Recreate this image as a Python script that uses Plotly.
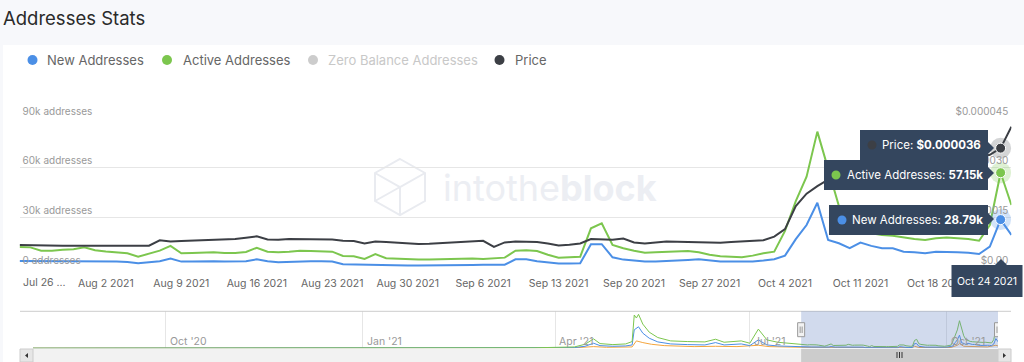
import plotly.graph_objects as go
from datetime import date, timedelta

W, H = 1024, 362

# ---------------- data ----------------
start_day = date(2021, 7, 25)
dates = [(start_day + timedelta(days=i)).isoformat() for i in range(93)]

new_addresses_k = [
    3.8, 3.8, 3.8, 3.8, 3.8, 3.8, 3.8, 3.8, 3.6, 3.4,
    3.2, 2.4, 3.0, 3.6, 5.2, 3.4, 3.4, 3.6, 3.6, 3.4,
    3.4, 3.6, 4.8, 3.6, 3.0, 3.2, 3.8, 3.6, 3.6, 3.4,
    1.8, 1.6, 1.4, 1.4, 1.3, 1.2, 1.0, 1.0, 1.0, 1.1,
    1.2, 1.4, 1.4, 1.5, 1.5, 1.5, 4.8, 4.8, 3.6, 2.8,
    2.3, 2.2, 2.4, 13.9, 13.9, 6.0, 4.6, 4.0, 3.4, 3.4,
    3.6, 3.8, 4.4, 4.8, 4.2, 3.4, 3.4, 3.4, 3.4, 4.0,
    4.8, 7.0, 17.0, 25.5, 39.0, 16.5, 14.5, 11.5, 14.9, 12.9,
    11.5, 11.5, 9.4, 9.0, 8.5, 9.4, 9.4, 9.0, 8.8, 8.0,
    12.5, 28.79, 19.5]

active_addresses_k = [
    12.3, 12.0, 10.0, 10.0, 10.6, 10.9, 12.1, 10.3, 9.5, 8.8,
    8.4, 6.4, 8.4, 10.0, 12.9, 8.4, 8.6, 9.0, 9.0, 8.6,
    8.6, 9.2, 11.8, 9.4, 9.0, 9.4, 10.0, 9.8, 9.6, 9.4,
    6.8, 6.6, 5.0, 7.9, 5.4, 5.0, 4.8, 4.6, 4.6, 4.8,
    5.0, 5.0, 5.2, 5.0, 5.4, 5.8, 10.0, 10.3, 9.8, 7.5,
    5.8, 6.0, 6.3, 23.5, 26.6, 13.5, 11.5, 10.0, 8.8, 9.0,
    9.2, 9.4, 9.8, 9.0, 7.5, 6.6, 6.2, 6.0, 7.0, 8.5,
    9.4, 22.0, 40.0, 54.7, 82.0, 60.0, 37.0, 26.0, 22.0, 20.5,
    19.5, 19.0, 18.0, 17.0, 16.5, 17.5, 18.0, 17.5, 17.0, 16.0,
    25.5, 57.15, 37.6]

price_micro_usd = [
    6.75, 6.65, 6.6, 6.5, 6.5, 6.5, 6.5, 6.55, 6.5, 6.45,
    6.45, 6.45, 6.5, 8.15, 7.75, 7.9, 8.0, 8.0, 8.1, 8.3,
    8.5, 8.9, 9.35, 8.4, 8.3, 8.5, 8.5, 8.5, 8.4, 8.4,
    8.0, 7.9, 7.15, 7.75, 7.65, 7.5, 7.3, 7.0, 7.1, 7.3,
    7.3, 7.5, 7.8, 8.0, 6.15, 7.5, 7.75, 7.75, 7.65, 7.2,
    6.6, 6.8, 7.2, 8.5, 8.5, 8.3, 8.65, 7.5, 7.2, 7.5,
    7.8, 7.7, 7.6, 7.5, 7.4, 7.4, 7.6, 7.8, 7.9, 8.15,
    9.25, 11.5, 18.5, 22.25, 24.5, 26.5, 27.5, 28.0, 28.5, 29.0,
    29.5, 30.0, 30.5, 31.0, 31.25, 31.5, 32.0, 32.25, 32.5, 33.0,
    34.0, 36.0, 42.5]

xtick_dates = ["2021-07-26", "2021-08-02", "2021-08-09", "2021-08-16", "2021-08-23",
               "2021-08-30", "2021-09-06", "2021-09-13", "2021-09-20", "2021-09-27",
               "2021-10-04", "2021-10-11", "2021-10-18"]
xtick_labels = ["Jul 26 ...", "Aug 2 2021", "Aug 9 2021", "Aug 16 2021", "Aug 23 2021",
                "Aug 30 2021", "Sep 6 2021", "Sep 13 2021", "Sep 20 2021", "Sep 27 2021",
                "Oct 4 2021", "Oct 11 2021", "Oct 18 2021"]

y_ticks = [0, 30000, 60000, 90000]
y_tick_labels = ["0 addresses", "30k addresses", "60k addresses", "90k addresses"]
price_ticks = [0, 0.000015, 0.000030, 0.000045]
price_tick_labels = ["$0.00", "$0.000015", "$0.000030", "$0.000045"]

# navigator (history before the selected window)
nav_hist_dates = ["2020-07-31", "2020-09-15", "2020-11-15", "2021-01-01", "2021-01-30",
                  "2021-02-06", "2021-02-27", "2021-03-10", "2021-03-22", "2021-04-10",
                  "2021-04-15", "2021-04-19", "2021-04-22", "2021-04-28", "2021-05-04",
                  "2021-05-07", "2021-05-08", "2021-05-09", "2021-05-10", "2021-05-12",
                  "2021-05-15", "2021-05-19", "2021-05-25", "2021-06-02", "2021-06-10",
                  "2021-06-15", "2021-06-19", "2021-06-27", "2021-07-01", "2021-07-05",
                  "2021-07-07", "2021-07-09", "2021-07-14", "2021-07-20", "2021-07-24"]
nav_hist_active_k = [0.3, 0.3, 0.4, 0.6, 2.5, 0.8, 1.5, 1.8, 1.5, 4,
                     12, 28, 14, 11, 13, 20, 99, 90, 101, 72,
                     48, 32, 22, 20, 19, 27, 18, 22, 15, 57,
                     40, 25, 18, 14, 13]
nav_hist_new_k = [0.2, 0.2, 0.2, 0.3, 1.0, 0.4, 0.6, 0.8, 0.7, 2,
                  6, 15, 8, 6, 7, 10, 55, 60, 64, 45,
                  30, 19, 13, 11, 10, 17, 10, 13, 8, 25,
                  18, 10, 7, 5, 4]
zero_balance_dates = ["2020-07-31", "2020-10-01", "2021-01-01", "2021-04-10", "2021-04-19",
                      "2021-04-25", "2021-05-07", "2021-05-09", "2021-05-12", "2021-05-16",
                      "2021-05-22", "2021-06-05", "2021-06-15", "2021-06-25", "2021-07-05",
                      "2021-07-10", "2021-07-25", "2021-08-20", "2021-09-15", "2021-09-16",
                      "2021-09-18", "2021-10-03", "2021-10-06", "2021-10-07", "2021-10-09",
                      "2021-10-20", "2021-10-24", "2021-10-25"]
zero_balance_k = [0.5, 0.5, 0.6, 1.5, 5, 3, 4, 22, 17, 12,
                  8, 5, 6, 5, 9, 5, 3, 2.5, 2, 6,
                  2.5, 2.5, 9, 14, 6, 4, 9, 7]
nav_ticks = ["2020-10-01", "2021-01-01", "2021-04-01", "2021-07-01", "2021-10-01"]
nav_tick_labels = ["Oct '20", "Jan '21", "Apr '21", "Jul '21", "Oct '21"]
nav_range = ["2020-07-31", "2021-10-25"]

hover_date = "2021-10-24"

# ---------------- derived ----------------
new_addresses = [v * 1000 for v in new_addresses_k]
active_addresses = [v * 1000 for v in active_addresses_k]
price_usd = [p * 1e-6 for p in price_micro_usd]
nav_dates = nav_hist_dates + dates
nav_active = [v * 1000 for v in nav_hist_active_k] + active_addresses
nav_new = [v * 1000 for v in nav_hist_new_k] + new_addresses
zero_balance = [v * 1000 for v in zero_balance_k]
hi = dates.index(hover_date)

BLUE = "#4b8fe6"
GREEN = "#7cc64e"
PRICE = "#3c3f45"
GRAY_OFF = "#cccccc"
ORANGE = "#f4a53e"
TIP = "#34465e"
FONT = "Inter, Roboto, 'Noto Sans', sans-serif"


def px(x):
    return x / W


def py(y):
    return 1 - y / H


fig = go.Figure()

# main series
fig.add_trace(go.Scatter(x=dates, y=new_addresses, mode="lines", name="New Addresses",
                         line=dict(color=BLUE, width=2), xaxis="x", yaxis="y", showlegend=False))
fig.add_trace(go.Scatter(x=dates, y=active_addresses, mode="lines", name="Active Addresses",
                         line=dict(color=GREEN, width=2), xaxis="x", yaxis="y", showlegend=False))
fig.add_trace(go.Scatter(x=dates, y=price_usd, mode="lines", name="Price",
                         line=dict(color=PRICE, width=2), xaxis="x", yaxis="y2", showlegend=False))

# hover halos + markers
for yv, col, halo, ax in [(new_addresses[hi], BLUE, "rgba(75,143,230,0.25)", "y"),
                          (active_addresses[hi], GREEN, "rgba(124,198,78,0.25)", "y"),
                          (price_usd[hi], PRICE, "rgba(60,63,69,0.22)", "y2")]:
    fig.add_trace(go.Scatter(x=[dates[hi]], y=[yv], mode="markers", xaxis="x", yaxis=ax,
                             marker=dict(size=21, color=halo, line=dict(width=0)),
                             showlegend=False, hoverinfo="skip"))
    fig.add_trace(go.Scatter(x=[dates[hi]], y=[yv], mode="markers", xaxis="x", yaxis=ax,
                             marker=dict(size=10, color=col, line=dict(width=1, color="#ffffff")),
                             showlegend=False, hoverinfo="skip"))

# navigator series
fig.add_trace(go.Scatter(x=zero_balance_dates, y=zero_balance, mode="lines",
                         line=dict(color=ORANGE, width=1), xaxis="x2", yaxis="y3",
                         showlegend=False, hoverinfo="skip"))
fig.add_trace(go.Scatter(x=nav_dates, y=nav_new, mode="lines",
                         line=dict(color=BLUE, width=1), xaxis="x2", yaxis="y3",
                         showlegend=False, hoverinfo="skip"))
fig.add_trace(go.Scatter(x=nav_dates, y=nav_active, mode="lines",
                         line=dict(color=GREEN, width=1), xaxis="x2", yaxis="y3",
                         showlegend=False, hoverinfo="skip"))

shapes = []
annotations = []

# page background: header band + white card
shapes.append(dict(type="rect", xref="paper", yref="paper", x0=px(3), x1=1, y0=0, y1=py(45),
                   fillcolor="#ffffff", line=dict(width=0), layer="below"))

# watermark logo (cube outline)
cx, cy, r = 400, 187, 28
hexpts = [(cx, cy - r), (cx + 25, cy - r / 2), (cx + 25, cy + r / 2), (cx, cy + r),
          (cx - 25, cy + r / 2), (cx - 25, cy - r / 2)]
path = "M " + " L ".join(f"{px(a)},{py(b)}" for a, b in hexpts) + " Z"
shapes.append(dict(type="path", xref="paper", yref="paper", path=path,
                   line=dict(color="#e9ebf0", width=2), layer="below"))
inner = (f"M {px(cx-25)},{py(cy-r/2)} L {px(cx)},{py(cy)} L {px(cx+25)},{py(cy-r/2)} "
         f"M {px(cx)},{py(cy)} L {px(cx)},{py(cy+r)} "
         f"M {px(cx-25)},{py(cy+r/2)} L {px(cx+25)},{py(cy-r/2)}")
shapes.append(dict(type="path", xref="paper", yref="paper", path=inner,
                   line=dict(color="#e9ebf0", width=2), layer="below"))
annotations.append(dict(xref="paper", yref="paper", x=px(441), y=py(188), xanchor="left",
                        yanchor="middle", showarrow=False,
                        text="intothe<b>block</b>",
                        font=dict(family=FONT, size=36, color="#eceef3")))

# title
annotations.append(dict(xref="paper", yref="paper", x=px(1), y=py(18), xanchor="left",
                        yanchor="middle", showarrow=False, text="Addresses Stats",
                        font=dict(family=FONT, size=18.5, color="#2a2a2a")))

# legend (manual)
legend_items = [("New Addresses", BLUE, "#666666", 32.5, 45),
                ("Active Addresses", GREEN, "#666666", 167, 180.5),
                ("Zero Balance Addresses", GRAY_OFF, "#c8c8c8", 313, 326),
                ("Price", PRICE, "#666666", 499.5, 513)]
for name, mcol, tcol, mx, tx in legend_items:
    shapes.append(dict(type="circle", xref="paper", yref="paper",
                       x0=px(mx - 5), x1=px(mx + 5), y0=py(65), y1=py(55),
                       fillcolor=mcol, line=dict(width=0)))
    annotations.append(dict(xref="paper", yref="paper", x=px(tx), y=py(60), xanchor="left",
                            yanchor="middle", showarrow=False, text=name,
                            font=dict(family=FONT, size=13, color=tcol)))

# first (truncated) x label, shifted right as in the original
annotations.append(dict(xref="paper", yref="paper", x=px(44.5), y=py(282), xanchor="center",
                        yanchor="middle", showarrow=False, text=xtick_labels[0],
                        font=dict(family=FONT, size=10.5, color="#666666")))


# tooltips
def tooltip(x0, x1, y0, y1, ty, bullet_x, bullet_col, text_x, text, point_y):
    shapes.append(dict(type="rect", xref="paper", yref="paper", x0=px(x0), x1=px(x1),
                       y0=py(y1), y1=py(y0), fillcolor=TIP, line=dict(width=0), layer="above"))
    tri = (f"M {px(x1)},{py(point_y-6)} L {px(x1+6)},{py(point_y)} "
           f"L {px(x1)},{py(point_y+6)} Z")
    shapes.append(dict(type="path", xref="paper", yref="paper", path=tri,
                       fillcolor=TIP, line=dict(width=0), layer="above"))
    shapes.append(dict(type="circle", xref="paper", yref="paper",
                       x0=px(bullet_x - 4.5), x1=px(bullet_x + 4.5),
                       y0=py(ty + 4.5), y1=py(ty - 4.5),
                       fillcolor=bullet_col, line=dict(width=0), layer="above"))
    annotations.append(dict(xref="paper", yref="paper", x=px(text_x), y=py(ty),
                            xanchor="left", yanchor="middle", showarrow=False, text=text,
                            font=dict(family=FONT, size=11.5, color="#ffffff")))


tooltip(860, 988, 130, 160, 145, 872, PRICE, 880,
        "Price: <b>$" + f"{price_usd[hi]:.6f}" + "</b>", 148)
tooltip(824, 988, 160, 190, 175, 836, GREEN, 845,
        "Active Addresses: <b>" + f"{active_addresses_k[hi]:.2f}k" + "</b>", 173)
tooltip(829, 988, 205, 235, 220, 842, BLUE, 850,
        "New Addresses: <b>" + f"{new_addresses_k[hi]:.2f}k" + "</b>", 219)

# date tooltip
shapes.append(dict(type="rect", xref="paper", yref="paper", x0=px(951.5), x1=px(1022.5),
                   y0=py(297), y1=py(265), fillcolor=TIP, line=dict(width=0), layer="above"))
shapes.append(dict(type="path", xref="paper", yref="paper",
                   path=f"M {px(995)},{py(265)} L {px(1001)},{py(259)} L {px(1007)},{py(265)} Z",
                   fillcolor=TIP, line=dict(width=0), layer="above"))
annotations.append(dict(xref="paper", yref="paper", x=px(986.5), y=py(281), xanchor="center",
                        yanchor="middle", showarrow=False, text="Oct 24 2021",
                        font=dict(family=FONT, size=10.5, color="#ffffff")))

# navigator labels (inside, at the bottom, right of each tick)
for d, lab in zip(nav_ticks, nav_tick_labels):
    annotations.append(dict(xref="x2", yref="paper", x=d, y=py(341), xanchor="left",
                            yanchor="middle", xshift=2, showarrow=False, text=lab,
                            font=dict(family=FONT, size=10.5, color="#999999")))

# navigator decorations
shapes.append(dict(type="line", xref="paper", yref="paper", x0=px(20), x1=px(1011),
                   y0=py(311.3), y1=py(311.3), line=dict(color="#cccccc", width=1)))
shapes.append(dict(type="rect", xref="x2", yref="paper", x0=dates[0], x1=dates[-1],
                   y0=py(348.3), y1=py(311.3), fillcolor="rgba(102,133,194,0.3)",
                   line=dict(width=0), layer="above"))
for d in [dates[0], dates[-1]]:
    shapes.append(dict(type="rect", xref="x2", yref="paper", xsizemode="pixel", xanchor=d,
                       x0=-3.5, x1=3.5, y0=py(336.7), y1=py(322.7), fillcolor="#f2f2f2",
                       line=dict(color="#999999", width=1), layer="above"))
    for off in [-1, 1]:
        shapes.append(dict(type="line", xref="x2", yref="paper", xsizemode="pixel",
                           xanchor=d, x0=off, x1=off, y0=py(333), y1=py(326.5),
                           line=dict(color="#999999", width=1), layer="above"))
# scrollbar
shapes.append(dict(type="rect", xref="paper", yref="paper", x0=px(20), x1=px(1011),
                   y0=0, y1=py(349), fillcolor="#f2f2f2", line=dict(width=0)))
shapes.append(dict(type="rect", xref="x2", yref="paper", x0=dates[0], x1=dates[-1],
                   y0=0, y1=py(349), fillcolor="#cccccc", line=dict(width=0)))
for bx0, bx1 in [(20, 33), (998, 1011)]:
    shapes.append(dict(type="rect", xref="paper", yref="paper", x0=px(bx0), x1=px(bx1),
                       y0=0, y1=py(349), fillcolor="#e6e6e6",
                       line=dict(color="#cccccc", width=1)))
shapes.append(dict(type="path", xref="paper", yref="paper",
                   path=f"M {px(28)},{py(353)} L {px(25)},{py(355.5)} L {px(28)},{py(358)} Z",
                   fillcolor="#333333", line=dict(width=0)))
shapes.append(dict(type="path", xref="paper", yref="paper",
                   path=f"M {px(1003)},{py(353)} L {px(1006)},{py(355.5)} L {px(1003)},{py(358)} Z",
                   fillcolor="#333333", line=dict(width=0)))
for gx in [897, 899.5, 902]:
    shapes.append(dict(type="line", xref="paper", yref="paper", x0=px(gx), x1=px(gx),
                       y0=py(358), y1=py(352), line=dict(color="#333333", width=1)))

fig.update_layout(
    width=W, height=H,
    margin=dict(l=0, r=0, t=0, b=0, pad=0, autoexpand=False),
    paper_bgcolor="#f7f8fb",
    plot_bgcolor="rgba(0,0,0,0)",
    showlegend=False,
    hovermode=False,
    font=dict(family=FONT),
    shapes=shapes,
    annotations=annotations,
    xaxis=dict(domain=[px(19.6), px(1011.4)], range=[dates[0], dates[-1]], type="date",
               tickvals=xtick_dates[1:], ticktext=xtick_labels[1:], showgrid=False,
               zeroline=False, showline=False, ticks="outside", ticklen=6,
               tickcolor="rgba(0,0,0,0)", ticklabeloverflow="allow", automargin=False,
               tickfont=dict(family=FONT, size=10.5, color="#666666"), anchor="y",
               fixedrange=True),
    yaxis=dict(domain=[py(267.3), py(118.3)], range=[-50, 90050], tickvals=y_ticks,
               ticktext=y_tick_labels, ticklabelposition="inside top", showgrid=True,
               ticklabeloverflow="allow", automargin=False,
               gridcolor="#e6e6e6", gridwidth=1, zeroline=False, showline=False,
               tickfont=dict(family=FONT, size=10, color="#999999"), anchor="x",
               fixedrange=True),
    yaxis2=dict(overlaying="y", side="right", range=[-0.025e-6, 45.025e-6],
                tickvals=price_ticks, ticktext=price_tick_labels,
                ticklabelposition="inside top", showgrid=False, zeroline=False,
                ticklabeloverflow="allow", automargin=False,
                showline=False, tickfont=dict(family=FONT, size=10, color="#999999"),
                anchor="x", fixedrange=True),
    xaxis2=dict(domain=[px(33), px(998)], range=nav_range, type="date", anchor="y3",
                tickvals=nav_ticks, showticklabels=False, showgrid=True,
                gridcolor="#e6e6e6", zeroline=False, showline=False, ticks="",
                automargin=False, fixedrange=True),
    yaxis3=dict(domain=[py(348.3), py(311.3)], range=[0, 110000], anchor="x2",
                showticklabels=False, showgrid=False, zeroline=False, showline=False,
                automargin=False, fixedrange=True),
)

fig.write_html(
    "out.html",
    config={"displayModeBar": False},
    post_script="document.body.style.margin='0';document.body.style.padding='0';"
                "document.body.style.overflow='hidden';"
                "document.documentElement.style.overflow='hidden';",
)
